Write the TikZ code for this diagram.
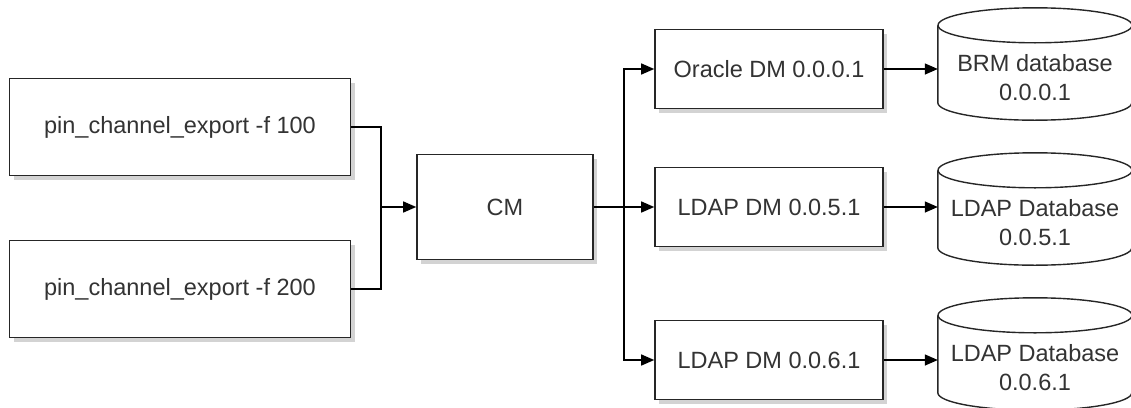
\documentclass[tikz,border=0pt]{standalone}
\usepackage{fontspec}
\setmainfont{Liberation Sans}
\usetikzlibrary{arrows.meta,shadows}

\begin{document}
\begin{tikzpicture}[x=1pt,y=-1pt,
        every node/.style={font=\fontsize{23.5}{29}\selectfont,text=black!80},
        box/.style={draw=black!85,line width=1.6pt,fill=white,inner sep=0pt,
            drop shadow={shadow xshift=4pt,shadow yshift=-4pt,opacity=0.35}},
        dbbody/.style={inner sep=0pt,minimum width=194pt,minimum height=85pt,align=center},
        arr/.style={-{Triangle[length=13pt,width=11pt]},line width=1.4pt}]
        \useasboundingbox(0,0)rectangle(1131,407);

        \node[box,minimum width=341pt,minimum height=97pt](exp100)at(180,127){pin\_channel\_export -f 100};
        \node[box,minimum width=341pt,minimum height=97pt](exp200)at(180,289){pin\_channel\_export -f 200};
        \node[box,minimum width=176pt,minimum height=105pt](cm)at(505,207){CM};
        \coordinate(joinL)at(381,207);
        \coordinate(joinR)at(624,207);

        \node[box,minimum width=228pt,minimum height=79pt](oradm)at(769,69){Oracle DM 0.0.0.1};
        \node[box,minimum width=228pt,minimum height=79pt](ldapdma)at(769,207){LDAP DM 0.0.5.1};
        \node[box,minimum width=228pt,minimum height=79pt](ldapdmb)at(769,360){LDAP DM 0.0.6.1};

        \node[dbbody](brmdb)at(1035,77.5){BRM database\\0.0.0.1};
        \node[dbbody](ldapdba)at(1035,222.5){LDAP Database\\0.0.5.1};
        \node[dbbody](ldapdbb)at(1035,367.5){LDAP Database\\0.0.6.1};

        % cylinders round the database texts
        \foreach \db in {brmdb,ldapdba,ldapdbb}{
            \draw[line width=1.4pt,draw=black!85]([yshift=9.5pt]\db.north west)--([yshift=17.5pt]\db.south west)
                arc[start angle=180,end angle=0,x radius=97,y radius=17.5]--([yshift=9.5pt]\db.north east);
            \draw[line width=1.4pt,draw=black!85]([yshift=9.5pt]\db.north)ellipse[x radius=97,y radius=17.5];
        }

        \draw[arr](exp100.east)-|(joinL)--(cm.west);
        \draw[line width=1.4pt](exp200.east)-|(joinL);

        \draw[arr](cm.east)--(ldapdma.west);
        \draw[arr](joinR)|-(oradm.west);
        \draw[arr](joinR)|-(ldapdmb.west);

        \draw[arr](oradm.east)--(oradm.east-|brmdb.west);
        \draw[arr](ldapdma.east)--(ldapdma.east-|ldapdba.west);
        \draw[arr](ldapdmb.east)--(ldapdmb.east-|ldapdbb.west);
\end{tikzpicture}
\end{document}
